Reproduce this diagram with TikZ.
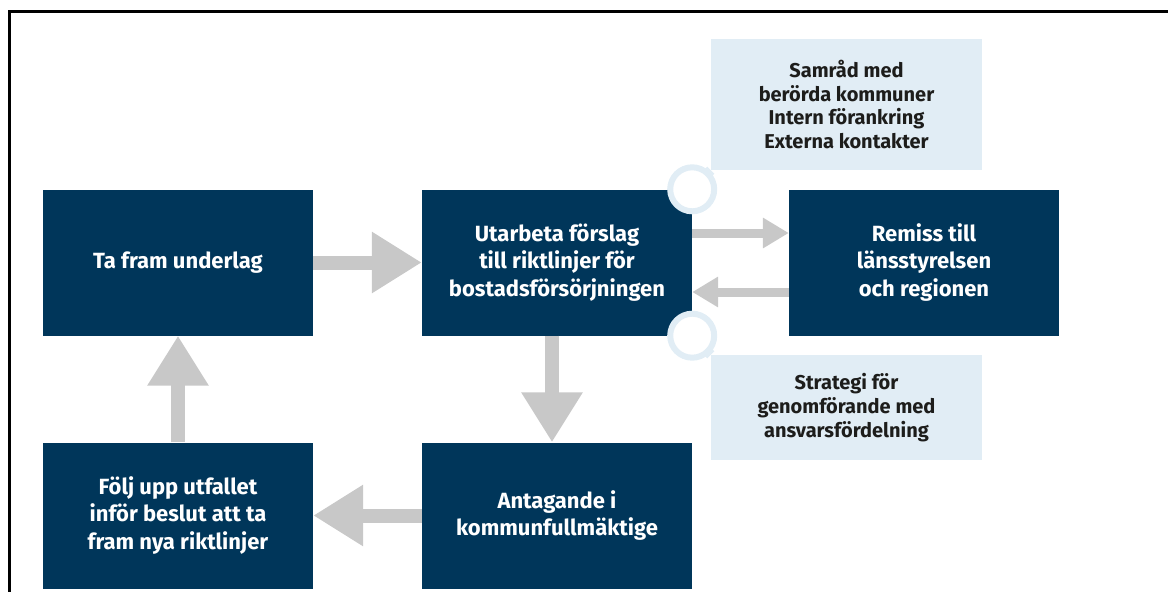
\documentclass[tikz,border=0pt]{standalone}
\usepackage{fontspec}
\setmainfont{Fira Sans}
\usetikzlibrary{arrows.meta,positioning}
\definecolor{navyblue}{HTML}{00365A}
\definecolor{paleblue}{HTML}{E1EDF5}
\definecolor{arrowgray}{HTML}{C8C8C8}
\definecolor{inkblack}{HTML}{1D1D1B}

\tikzset{
    stepbox/.style={fill=navyblue, text=white, align=center, inner sep=0pt,
        minimum width=270pt, minimum height=146pt,
        font=\fontsize{22}{27.5}\selectfont\bfseries},
    notebox/.style={fill=paleblue, text=inkblack, align=center, inner sep=0pt,
        minimum width=271pt, font=\fontsize{20}{23.7}\selectfont\bfseries},
    bigflow/.style={draw=arrowgray, line width=14pt,
        -{Triangle[length=50pt,width=58pt]}},
    smallflow/.style={draw=arrowgray, line width=9pt,
        -{Triangle[length=26pt,width=29pt]}},
    ring/.style={draw=paleblue, line width=6pt, fill=white}
}

\begin{document}
\begin{tikzpicture}[x=1pt, y=-1pt]
    \useasboundingbox (0,0) rectangle (1168,592);
    \clip (0,0) rectangle (1168,592);

    % frame
    \draw[line width=3pt] (9.5,600) -- (9.5,11.5) -- (1180,11.5);

    % process steps
    \node[stepbox] (underlag) at (178,262.5) {Ta fram underlag};
    \node[stepbox] (forslag) at (557,262.5) {Utarbeta förslag\\till riktlinjer för\\bostadsförsörjningen};
    \node[stepbox] (remiss) at (924,262.5) {Remiss till\\länsstyrelsen\\och regionen};
    \node[stepbox] (antagande) at (557,515.5) {Antagande i\\kommunfullmäktige};
    \node[stepbox] (uppfoljning) at (178,515.5) {Följ upp utfallet\\inför beslut att ta\\fram nya riktlinjer};

    % notes
    \node[notebox, minimum height=131pt] (samrad) at (846.5,104.5)
        {Samråd med\\berörda kommuner\\Intern förankring\\Externa kontakter};
    \node[notebox, minimum height=105pt] (strategi) at (846.5,407.5)
        {Strategi för\\genomförande med\\ansvarsfördelning};

    % ring markers
    \coordinate (topring) at (forslag.north east);
    \coordinate (bottomring) at (forslag.south east);
    \draw[paleblue, line width=10pt] (topring) -- (samrad.south west);
    \draw[paleblue, line width=10pt] (bottomring) -- (strategi.north west);
    \draw[ring] (topring) circle (22pt);
    \draw[ring] (bottomring) circle (22pt);

    % flows
    \draw[bigflow] (underlag) -- (forslag);
    \draw[smallflow] ([yshift=29.5pt]forslag.east) -- ([yshift=29.5pt]remiss.west);
    \draw[smallflow] ([yshift=-29.5pt]remiss.west) -- ([yshift=-29.5pt]forslag.east);
    \draw[bigflow] ([xshift=-5pt]forslag.south) -- ([xshift=-5pt]antagande.north);
    \draw[bigflow] (antagande) -- (uppfoljning);
    \draw[bigflow] (uppfoljning) -- (underlag);
\end{tikzpicture}
\end{document}
